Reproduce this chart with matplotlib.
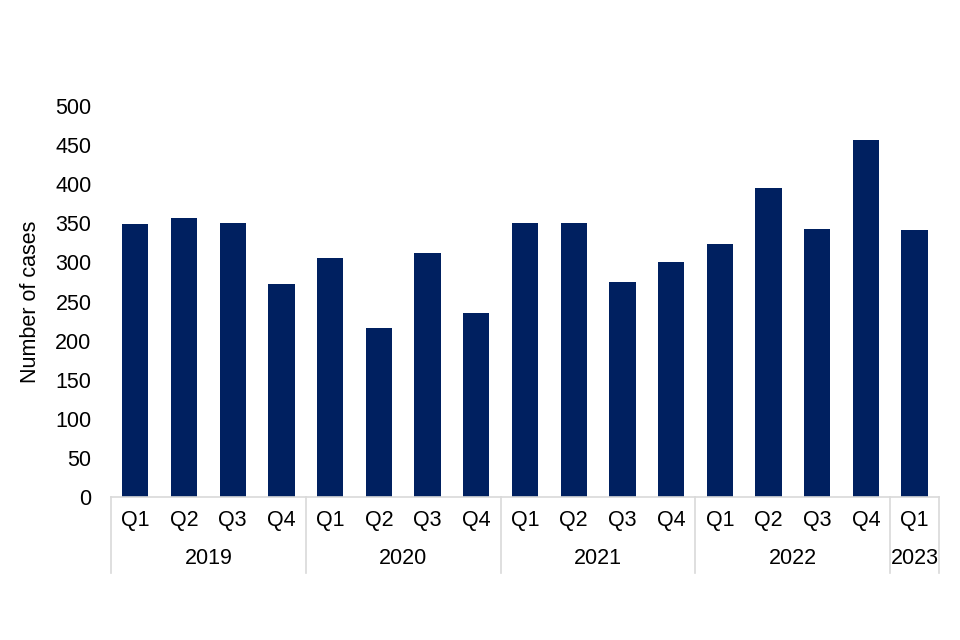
import matplotlib.pyplot as plt
import matplotlib.transforms as mtransforms
import numpy as np

plt.rcParams['font.family'] = ['Liberation Sans', 'DejaVu Sans']

quarters = ['Q1', 'Q2', 'Q3', 'Q4', 'Q1', 'Q2', 'Q3', 'Q4', 'Q1', 'Q2', 'Q3', 'Q4',
            'Q1', 'Q2', 'Q3', 'Q4', 'Q1']
years = ['2019', '2020', '2021', '2022', '2023']
year_counts = [4, 4, 4, 4, 1]
cases = [349, 357, 351, 272, 305, 216, 312, 235, 350, 350, 275, 301,
         323, 395, 343, 456, 342]

fig = plt.figure(figsize=(9.6, 6.4), dpi=100)
ax = fig.add_axes([0.1156, 0.2234, 0.8625, 0.611])

x = np.arange(len(cases))
ax.bar(x, cases, width=0.54, color='#002060')

ax.set_xlim(-0.5, len(cases) - 0.5)
ax.set_ylim(0, 500)
ax.set_yticks(np.arange(0, 501, 50))
ax.tick_params(axis='y', length=0, labelsize=15.5, pad=14)
ax.set_xticks(x)
ax.set_xticklabels(quarters)
ax.tick_params(axis='x', length=0, labelsize=15.5, pad=9)
ax.set_ylabel('Number of cases', fontsize=15.5, labelpad=10)

for s in ['top', 'right', 'left']:
    ax.spines[s].set_visible(False)
ax.spines['bottom'].set_color('#d9d9d9')
ax.spines['bottom'].set_linewidth(1.2)

trans = mtransforms.blended_transform_factory(ax.transData, ax.transAxes)
edges = np.concatenate([[0], np.cumsum(year_counts)]) - 0.5
for e in edges:
    ax.plot([e, e], [0, -0.194], transform=trans, color='#d9d9d9', lw=1.2, clip_on=False)
for i, yr in enumerate(years):
    mid = (edges[i] + edges[i + 1]) / 2
    ax.text(mid, -0.156, yr, transform=trans, ha='center', va='center', fontsize=15.5)

fig.savefig('out.png', dpi=100)
